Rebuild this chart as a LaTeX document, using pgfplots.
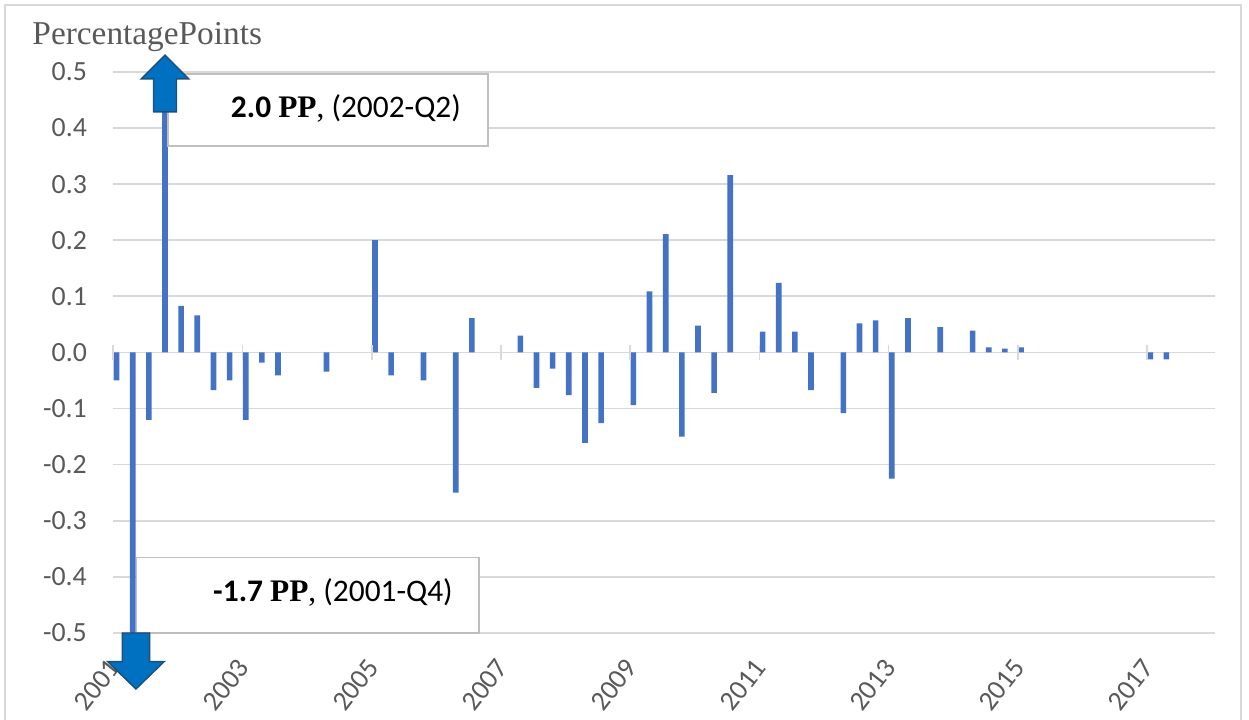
\documentclass[border=0pt]{standalone}
\usepackage{pgfplots}
\pgfplotsset{compat=1.18}
\usepackage{fontspec}
\setmainfont{Carlito}
\newfontfamily\tnr{Liberation Serif}
\definecolor{barblue}{HTML}{4472C4}
\definecolor{arrowblue}{HTML}{0070C0}
\definecolor{arrowedge}{HTML}{1F4E79}
\definecolor{gridgray}{HTML}{D9D9D9}
\definecolor{labelgray}{HTML}{595959}
\definecolor{boxgray}{HTML}{BFBFBF}
\begin{document}
\begin{tikzpicture}
\begin{axis}[
    scale only axis,
    width=396.6pt, height=202pt,
    xmin=-0.2, xmax=68, ymin=-0.5, ymax=0.5,
    ybar, bar width=0.35,
    clip mode=individual,
    axis line style={draw=none},
    major tick length=0,
    ytick={-0.5,-0.4,-0.3,-0.2,-0.1,0,0.1,0.2,0.3,0.4,0.5},
    yticklabels={-0.5,-0.4,-0.3,-0.2,-0.1,0.0,0.1,0.2,0.3,0.4,0.5},
    ymajorgrids,
    grid style={gridgray, line width=0.6pt},
    xtick={-0.2,7.8,15.8,23.8,31.8,39.8,47.8,55.8,63.8},
    xticklabels={2001,2003,2005,2007,2009,2011,2013,2015,2017},
    tick label style={labelgray, font=\fontsize{10}{12}\selectfont},
    yticklabel style={xshift=-6pt},
    xticklabel style={xshift=0.5pt, yshift=-10.6pt, rotate=52, anchor=east, inner sep=0pt},
]
% quarterly change, 2001-Q3 onwards (index 0 = 2001-Q3)
\addplot[fill=barblue, draw=none] table {
x y
0 -0.050
1 -1.700
2 -0.120
3 2.000
4 0.083
5 0.066
6 -0.067
7 -0.050
8 -0.120
9 -0.018
10 -0.041
13 -0.034
16 0.200
17 -0.041
19 -0.050
21 -0.250
22 0.061
25 0.030
26 -0.063
27 -0.029
28 -0.076
29 -0.161
30 -0.126
32 -0.094
33 0.109
34 0.211
35 -0.150
36 0.048
37 -0.072
38 0.316
40 0.037
41 0.124
42 0.037
43 -0.067
45 -0.108
46 0.052
47 0.057
48 -0.225
49 0.061
51 0.045
53 0.039
54 0.009
55 0.007
56 0.009
64 -0.0125
65 -0.0125
};
% tick marks on the zero line
\pgfplotsinvokeforeach{-0.2,7.8,15.8,23.8,31.8,39.8,47.8,55.8,63.8}{
  \draw[gridgray, line width=0.6pt] (axis cs:#1,-0.013) -- (axis cs:#1,0.013);
}
% call-outs for the two off-scale quarters
\draw[boxgray, fill=white, line width=0.6pt] (axis cs:3.2,0.368) rectangle (axis cs:22.98,0.496);
\node[anchor=base, font=\fontsize{11.3}{13}\selectfont] at (axis cs:14.2,0.418)
    {\textbf{2.0} {\tnr\bfseries PP}{\tnr,} (2002-Q2)};
\draw[boxgray, fill=white, line width=0.6pt] (axis cs:1.23,-0.3655) rectangle (axis cs:22.44,-0.5);
\node[anchor=base, font=\fontsize{11.3}{13}\selectfont] at (axis cs:13.4,-0.444)
    {\textbf{-1.7} {\tnr\bfseries PP}{\tnr,} (2001-Q4)};
\draw[arrowedge, fill=arrowblue, line width=0.5pt]
    (axis cs:3,0.530) -- (axis cs:4.47,0.4875) -- (axis cs:3.71,0.4875) -- (axis cs:3.71,0.4288)
    -- (axis cs:2.29,0.4288) -- (axis cs:2.29,0.4875) -- (axis cs:1.53,0.4875) -- cycle;
\draw[arrowedge, fill=arrowblue, line width=0.5pt]
    (axis cs:1.2,-0.600) -- (axis cs:2.95,-0.551) -- (axis cs:2.05,-0.551) -- (axis cs:2.05,-0.5)
    -- (axis cs:0.35,-0.5) -- (axis cs:0.35,-0.551) -- (axis cs:-0.55,-0.551) -- cycle;
\end{axis}
\node[anchor=base west, inner sep=0pt, labelgray, font=\tnr\fontsize{12}{14}\selectfont] at (-29.3pt,211.7pt) {PercentagePoints};
\draw[gridgray, line width=0.6pt] (-39pt,-40pt) -- (-39pt,226pt) -- (405.9pt,226pt) -- (405.9pt,-40pt);
\pgfresetboundingbox
\path[use as bounding box] (-40.8pt,-31pt) rectangle (408.9pt,227.9pt);
\end{tikzpicture}
\end{document}
